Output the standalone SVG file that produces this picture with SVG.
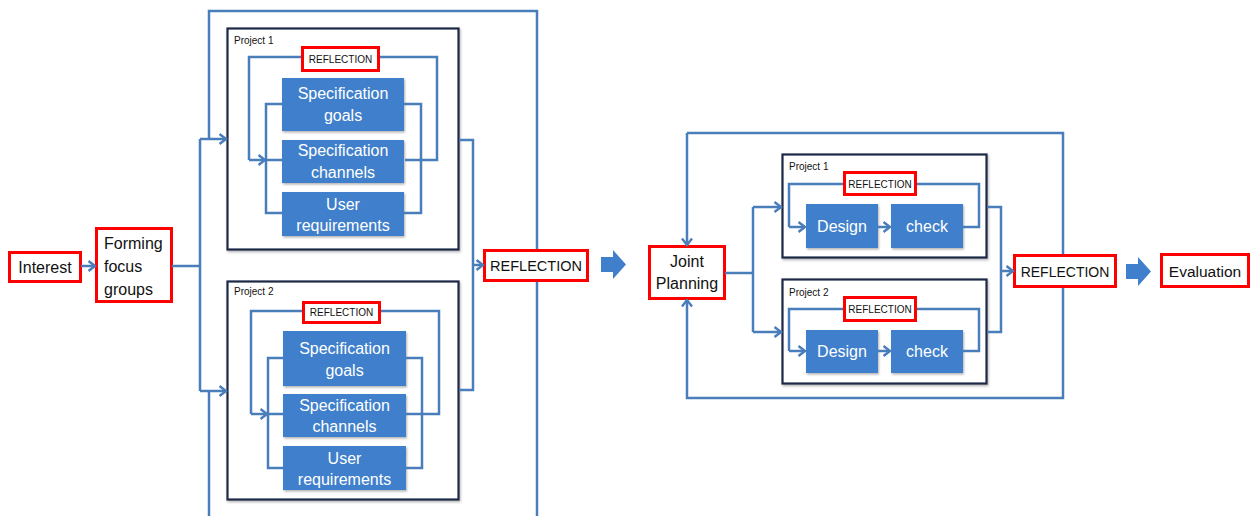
<svg xmlns="http://www.w3.org/2000/svg" width="1253" height="516" viewBox="0 0 1253 516">
<style>
.c{fill:none;stroke:#4a7ebb;stroke-width:2.5;stroke-linejoin:miter}
.a{marker-end:url(#ah)}
.red{fill:#fff;stroke:#ff0000;stroke-width:3}
.proj{fill:#fff;stroke:#1b2a47;stroke-width:2.2;filter:url(#sh)}
.blue{fill:#3f7fcb;filter:url(#sh)}
.t{font-family:"Liberation Sans",Arial,sans-serif;fill:#111}
.w{font-family:"Liberation Sans",Arial,sans-serif;fill:#fff;font-size:16px;text-anchor:middle}
.pl{font-size:10px}
.sr{font-size:10px;text-anchor:middle}
.big{font-size:16px}
.blk{fill:#3f7fcb}
</style>
<defs>
<marker id="ah" markerWidth="9" markerHeight="12" refX="7.5" refY="6" orient="auto" markerUnits="userSpaceOnUse">
<path d="M1,1 L7.5,6 L1,11" fill="none" stroke="#4a7ebb" stroke-width="2.4"/>
</marker>
<filter id="sh" x="-10%" y="-10%" width="125%" height="125%">
<feDropShadow dx="1" dy="1.5" stdDeviation="1" flood-color="#000" flood-opacity="0.3"/>
</filter>
</defs>

<g id="interest">
<rect class="red" x="9.5" y="252.5" width="71" height="29"/>
<text class="t big" x="45" y="273" text-anchor="middle">Interest</text>
</g>
<g id="forming">
<rect class="red" x="96.5" y="228.5" width="75" height="73"/>
<text class="t big" x="104" y="249">Forming</text>
<text class="t big" x="104" y="272">focus</text>
<text class="t big" x="104" y="295">groups</text>
</g>

<g id="project1-left">
<rect class="proj" x="227.5" y="28.5" width="231" height="221"/>
<text class="t pl" x="234" y="44">Project 1</text>
<g id="p1l-reflection">
<rect class="red" x="302.5" y="47.5" width="76" height="23"/>
<text class="t sr" x="340.5" y="62.5">REFLECTION</text>
</g>
<g id="p1l-goals"><rect class="blue" x="282" y="78" width="122" height="53"/>
<text class="w" x="343" y="99">Specification</text><text class="w" x="343" y="121">goals</text></g>
<g id="p1l-channels"><rect class="blue" x="282" y="140" width="122" height="43"/>
<text class="w" x="343" y="156">Specification</text><text class="w" x="343" y="178">channels</text></g>
<g id="p1l-user"><rect class="blue" x="282" y="192" width="122" height="44"/>
<text class="w" x="343" y="210">User</text><text class="w" x="343" y="231">requirements</text></g>
</g>

<g id="project2-left">
<rect class="proj" x="227.5" y="281.5" width="231" height="218"/>
<text class="t pl" x="234" y="295">Project 2</text>
<g id="p2l-reflection">
<rect class="red" x="303.5" y="302.5" width="76" height="20"/>
<text class="t sr" x="341.5" y="316">REFLECTION</text>
</g>
<g id="p2l-goals"><rect class="blue" x="283" y="331" width="123" height="55"/>
<text class="w" x="344.5" y="354">Specification</text><text class="w" x="344.5" y="376">goals</text></g>
<g id="p2l-channels"><rect class="blue" x="283" y="394" width="123" height="43"/>
<text class="w" x="344.5" y="411">Specification</text><text class="w" x="344.5" y="432">channels</text></g>
<g id="p2l-user"><rect class="blue" x="283" y="446" width="123" height="44"/>
<text class="w" x="344.5" y="464">User</text><text class="w" x="344.5" y="485">requirements</text></g>
</g>

<g id="reflection-left">
<rect class="red" x="484.5" y="250.5" width="103" height="30"/>
<text class="t" x="536" y="271" font-size="14.5" text-anchor="middle">REFLECTION</text>
</g>
<g id="block-arrow-1">
<path class="blk" d="M601,257 H613 V250 L626,264.5 L613,279 V272 H601 Z"/>
</g>

<g id="joint-planning">
<rect class="red" x="649.5" y="246.5" width="75" height="52"/>
<text class="t big" x="687" y="267" text-anchor="middle">Joint</text>
<text class="t big" x="687" y="289" text-anchor="middle">Planning</text>
</g>

<g id="project1-right">
<rect class="proj" x="782.5" y="154.5" width="204" height="103"/>
<text class="t pl" x="789" y="170">Project 1</text>
<g id="p1r-reflection">
<rect class="red" x="844.5" y="172.5" width="71" height="22"/>
<text class="t sr" x="880" y="187.5">REFLECTION</text>
</g>
<g id="p1r-design"><rect class="blue" x="806" y="204" width="72" height="44"/>
<text class="w" x="842" y="232" font-size="15">Design</text></g>
<g id="p1r-check"><rect class="blue" x="891" y="204" width="72" height="44"/>
<text class="w" x="927" y="232" font-size="15">check</text></g>
</g>

<g id="project2-right">
<rect class="proj" x="782.5" y="279.5" width="204" height="104"/>
<text class="t pl" x="789" y="296">Project 2</text>
<g id="p2r-reflection">
<rect class="red" x="844.5" y="297.5" width="71" height="23"/>
<text class="t sr" x="880" y="313">REFLECTION</text>
</g>
<g id="p2r-design"><rect class="blue" x="806" y="330" width="72" height="43"/>
<text class="w" x="842" y="357" font-size="15">Design</text></g>
<g id="p2r-check"><rect class="blue" x="891" y="330" width="72" height="43"/>
<text class="w" x="927" y="357" font-size="15">check</text></g>
</g>

<g id="reflection-right">
<rect class="red" x="1014.5" y="255.5" width="101" height="31"/>
<text class="t" x="1065" y="276.5" font-size="14" text-anchor="middle">REFLECTION</text>
</g>
<g id="block-arrow-2">
<path class="blk" d="M1126,264 H1138 V257 L1151,271.5 L1138,286 V279 H1126 Z"/>
</g>
<g id="evaluation">
<rect class="red" x="1161.5" y="254.5" width="87" height="32"/>
<text class="t" x="1205" y="276.5" font-size="15.5" text-anchor="middle">Evaluation</text>
</g>

<g id="connectors">
<path class="c a" d="M81,266 H95"/>
<path class="c" d="M172,266 H200"/>
<path class="c" d="M200,139 V391"/>
<path class="c a" d="M200,139 H226"/>
<path class="c a" d="M200,391 H226"/>
<path class="c" d="M537,249 V11 H209 V139"/>
<path class="c" d="M537,282 V518"/>
<path class="c" d="M209,391 V518"/>
<path class="c" d="M459.5,140 H473 V390 H459.5"/>
<path class="c a" d="M473,265 H483"/>
<path class="c" d="M301,57 H249 V160"/>
<path class="c a" d="M249,160 H265"/>
<path class="c" d="M380,57 H437 V160 H405"/>
<path class="c" d="M282,104 H266 V213 H282 M266,160 H282"/>
<path class="c" d="M404,104 H421 V213 H404"/>
<path class="c" d="M302,311 H251 V414"/>
<path class="c a" d="M251,414 H267"/>
<path class="c" d="M381,311 H439 V414 H406"/>
<path class="c" d="M283,358 H268 V468 H283 M268,414 H283"/>
<path class="c" d="M406,358 H422 V468 H406"/>
<path class="c a" d="M687,133 V245"/>
<path class="c" d="M687,133 H1063 V254"/>
<path class="c a" d="M1063,288 V398 H687 V300"/>
<path class="c" d="M725,273 H753"/>
<path class="c" d="M753,207 V332"/>
<path class="c a" d="M753,207 H781"/>
<path class="c a" d="M753,332 H781"/>
<path class="c" d="M987.5,207 H1001 V332 H987.5"/>
<path class="c a" d="M1001,271 H1013"/>
<path class="c" d="M843,184 H789 V227"/>
<path class="c a" d="M789,227 H805"/>
<path class="c" d="M917,184 H979 V227 H963"/>
<path class="c a" d="M878,227 H890"/>
<path class="c" d="M843,309 H789 V351"/>
<path class="c a" d="M789,351 H805"/>
<path class="c" d="M917,309 H979 V351 H963"/>
<path class="c a" d="M878,351 H890"/>
</g>
</svg>
